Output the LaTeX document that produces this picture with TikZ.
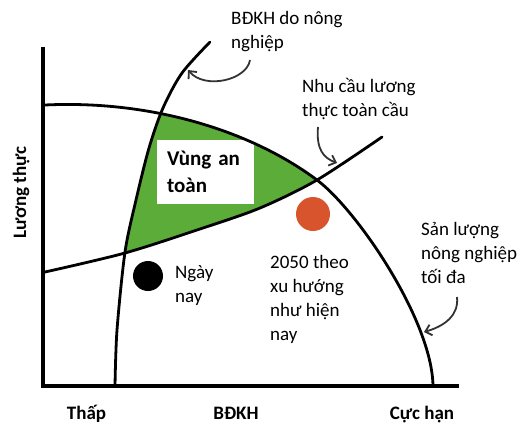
\documentclass[tikz,border=0pt]{standalone}
\usepackage{fontspec}
\setmainfont{Carlito}
\usepackage{tikz}
\usetikzlibrary{arrows.meta}

\definecolor{safegreen}{RGB}{92,172,58}
\definecolor{trendorange}{RGB}{216,84,44}

\begin{document}
\begin{tikzpicture}[x=1pt, y=-1pt,
    curve/.style={line width=2.8pt, line cap=round},
    axis/.style={line width=4.5pt},
    callout/.style={-{Straight Barb[length=6pt, width=11pt]}, line width=1.8pt, black!80},
    lbl/.style={font=\fontsize{19}{24}\selectfont, align=left, inner sep=0pt, anchor=base west},
    axislbl/.style={font=\fontsize{19}{24}\selectfont\bfseries, inner sep=0pt, anchor=base},
    dot/.style={circle, inner sep=0pt}]

    \useasboundingbox (0,0) rectangle (530,423);

    % green safe zone between the three curves
    \begin{scope}
        \clip plot[smooth] coordinates {(115,386) (117,330) (125,252) (136,200) (149,148) (163,108) (182,73) (210,42)}
            -- (520,42) -- (520,390) -- cycle;
        \clip (45,105) .. controls (150,100) and (250,130) .. (317,180)
            .. controls (357,210) and (432,320) .. (433,386) -- (45,390) -- cycle;
        \fill[safegreen] plot[smooth] coordinates {(45,272) (125,253) (200,229) (260,208) (317,180) (382,137)}
            -- (382,0) -- (45,0) -- cycle;
    \end{scope}

    % white box with zone name
    \node[fill=white, minimum width=97pt, minimum height=64pt, text width=77pt, inner xsep=10pt,
          align=left, font=\fontsize{21}{27}\selectfont\bfseries] (safe) at (205.5,172) {Vùng an\\toàn};

    % axes
    \coordinate (top) at (43,47);
    \coordinate (origin) at (43,386);
    \coordinate (right) at (459,386);
    \draw[axis] (top) -- (origin) -- (right);

    % climate change from agriculture
    \draw[curve] plot[smooth] coordinates {(115,386) (117,330) (125,252) (136,200) (149,148) (163,108) (182,73) (210,42)};
    % maximum agricultural output
    \draw[curve] (45,105) .. controls (150,100) and (250,130) .. (317,180)
        .. controls (357,210) and (432,320) .. (433,386);
    % global food demand
    \draw[curve] plot[smooth] coordinates {(45,272) (125,253) (200,229) (260,208) (317,180) (382,137)};

    % today and 2050 dots
    \node[dot, fill=black, minimum size=30pt] (today) at (148,276) {};
    \node[dot, fill=trendorange, minimum size=34pt] (trend) at (313,214) {};

    % labels (anchored at the baseline of the last line)
    \node[lbl] (lblclimate) at (231,48.5) {BĐKH do nông\\nghiệp};
    \node[lbl] (lbldemand) at (302,116) {Nhu cầu lương\\thực toàn cầu};
    \node[lbl] (lbloutput) at (421,283) {Sản lượng\\nông nghiệp\\tối đa};
    \node[lbl] (lbltrend) at (270,340) {2050 theo\\xu hướng\\như hiện\\nay};
    \node[lbl] (lbltoday) at (175,302) {Ngày\\nay};

    % axis labels
    \node[axislbl] (low) at (86.5,419.5) {Thấp};
    \node[axislbl] (cc) at (236,419.5) {BĐKH};
    \node[axislbl] (high) at (422,419.5) {Cực hạn};
    \node[axislbl, rotate=90] (food) at (26,192.5) {Lương thực};

    % callout arrows
    \coordinate (climatefrom) at (250,60);
    \coordinate (climateto) at (188,70);
    \draw[callout] (climatefrom) .. controls (247,80) and (205,90) .. (climateto);
    \coordinate (demandfrom) at (318,127);
    \coordinate (demandto) at (337,163);
    \draw[callout] (demandfrom) .. controls (316,150) and (324,158) .. (demandto);
    \coordinate (outputfrom) at (457,297);
    \coordinate (outputto) at (424,332);
    \draw[callout] (outputfrom) .. controls (459,315) and (445,326) .. (outputto);
\end{tikzpicture}
\end{document}
